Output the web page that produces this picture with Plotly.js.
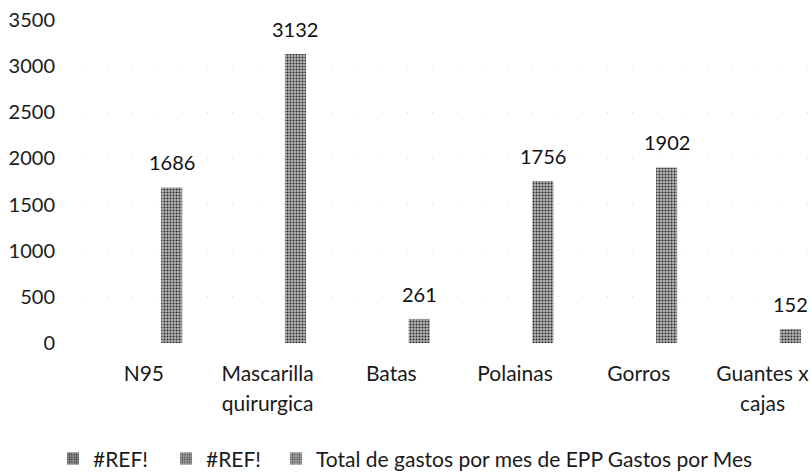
<!DOCTYPE html>
<html>
<head>
<meta charset="utf-8">
<script src="https://cdn.plot.ly/plotly-3.0.1.min.js"></script>
<style>html,body{margin:0;padding:0;background:#fff;}#chart{width:812px;height:473px;}</style>
</head>
<body>
<div id="chart"></div>
<script>
const categories = ["N95", "Mascarilla quirurgica", "Batas", "Polainas", "Gorros", "Guantes x cajas"];
const tickLabels = [["N95"], ["Mascarilla", "quirurgica"], ["Batas"], ["Polainas"], ["Gorros"], ["Guantes x", "cajas"]];
const seriesNames = ["#REF!", "#REF!", "Total de gastos por mes de EPP Gastos por Mes"];
const refSeries1 = [null, null, null, null, null, null];
const refSeries2 = [null, null, null, null, null, null];
const totalGastos = [1686, 3132, 261, 1756, 1902, 152];
const yTicks = [0, 500, 1000, 1500, 2000, 2500, 3000, 3500];

const FONT = "Lato, 'Noto Sans', sans-serif";
const barWidth = 0.17, barOffset = 0.14;
const idx = categories.map((c, i) => i);

function patterned(color, fg) {
  return {color: color, line: {width: 0}, pattern: {shape: ".", fgcolor: fg, bgcolor: color, size: 3, solidity: 0.35}};
}

const traces = [
  {type: "bar", name: seriesNames[0], legend: "legend", x: idx, y: refSeries1, marker: patterned("#9a9a9a", "#222"), width: barWidth, offset: barOffset - 2*barWidth},
  {type: "bar", name: seriesNames[1], legend: "legend2", x: idx, y: refSeries2, marker: patterned("#a8a8a8", "#333"), width: barWidth, offset: barOffset - barWidth},
  {type: "bar", name: seriesNames[2], legend: "legend3", x: idx, y: totalGastos, marker: patterned("#b4b4b4", "#2a2a2a"), width: barWidth, offset: barOffset, hoverinfo: "y"}
];

const annotations = totalGastos.map((v, i) => ({
  x: i + barOffset + barWidth / 2, y: v, xref: "x", yref: "y",
  text: String(v), showarrow: false, yanchor: "middle", yshift: 25,
  font: {family: FONT, size: 20, color: "#111"}
}));

function legendAt(xpx) {
  return {
    orientation: "h", xref: "container", yref: "container",
    x: xpx / 812, y: 0.03, xanchor: "left", yanchor: "middle",
    font: {family: FONT, size: 21, color: "#1a1a1a"},
    bgcolor: "rgba(0,0,0,0)"
  };
}

const layout = {
  width: 812, height: 473,
  margin: {l: 82, r: 0, t: 20, b: 130},
  paper_bgcolor: "#fff", plot_bgcolor: "#fff",
  barmode: "overlay",
  showlegend: true,
  font: {family: FONT, color: "#1a1a1a", size: 19},
  xaxis: {
    type: "linear", range: [-0.5, 5.4],
    tickmode: "array", tickvals: idx,
    ticktext: tickLabels.map(lines => lines.map(s => '<span style="font-size:21px">' + s + '</span>').join("<br>")),
    tickfont: {family: FONT, size: 23, color: "#1a1a1a"},
    ticks: "outside", ticklen: 9, tickcolor: "rgba(0,0,0,0)",
    showgrid: false, zeroline: false, showline: false, fixedrange: true
  },
  yaxis: {
    range: [0, 3500], tickmode: "array", tickvals: yTicks, ticktext: yTicks.map(String),
    tickfont: {family: FONT, size: 20, color: "#1a1a1a"},
    ticks: "outside", ticklen: 22, tickcolor: "rgba(0,0,0,0)",
    showgrid: true, gridcolor: "#d6d6d6", griddash: "1px,24px", gridwidth: 1,
    zeroline: false, showline: false, fixedrange: true
  },
  legend: legendAt(53),
  legend2: legendAt(166),
  legend3: legendAt(276),
  annotations: annotations
};

Plotly.newPlot("chart", traces, layout, {displayModeBar: false, staticPlot: true});
</script>
</body>
</html>
